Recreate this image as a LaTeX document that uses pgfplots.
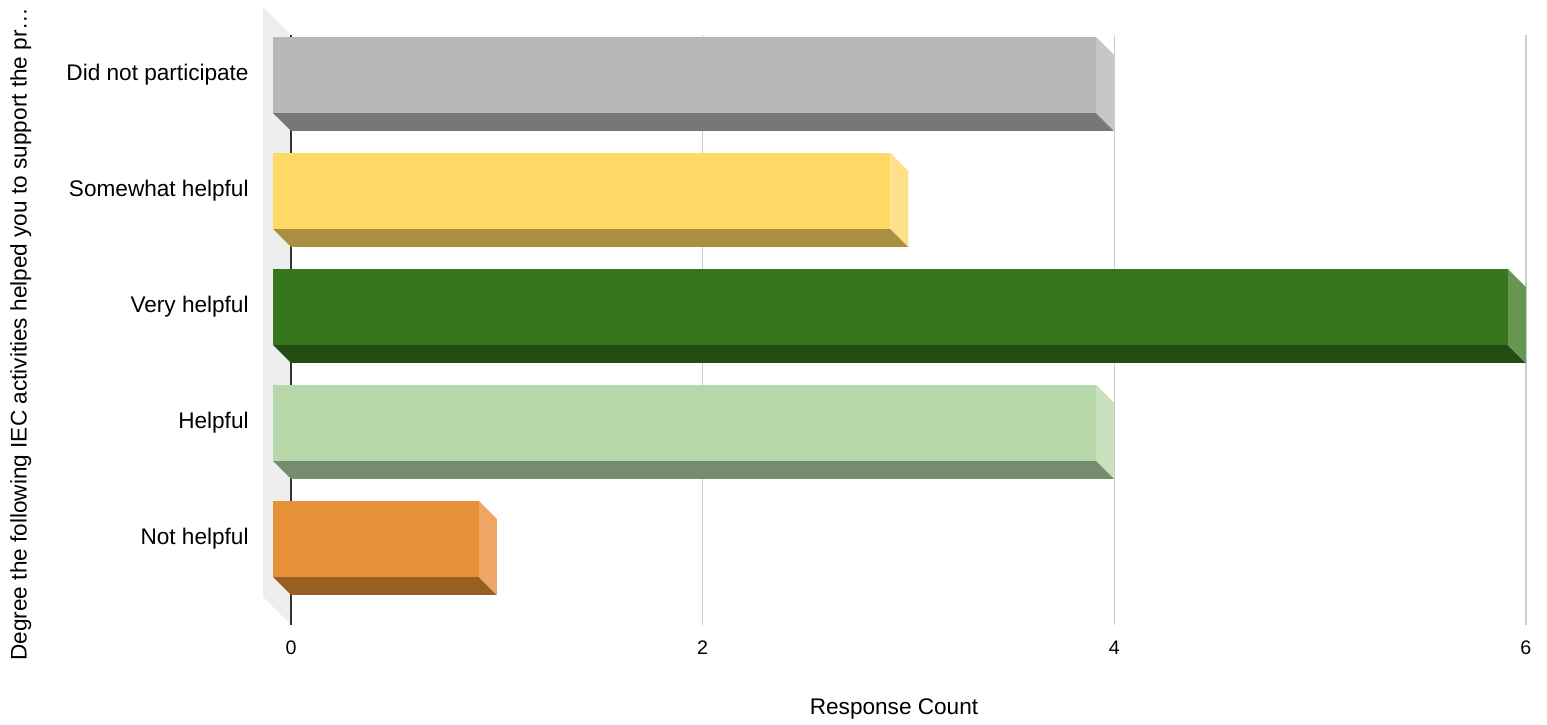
\documentclass[border=0pt]{standalone}
\usepackage{pgfplots}
\pgfplotsset{compat=1.18}
\usepackage{fontspec}
\setmainfont{Liberation Sans}

\definecolor{wallgray}{HTML}{EEEEEE}
\definecolor{gridgray}{HTML}{CCCCCC}
\definecolor{axisdark}{HTML}{333333}
\definecolor{dnpF}{HTML}{B7B7B7}
\definecolor{dnpB}{HTML}{777777}
\definecolor{dnpR}{HTML}{C7C7C7}
\definecolor{swF}{HTML}{FFD966}
\definecolor{swB}{HTML}{AA8E42}
\definecolor{swR}{HTML}{FFE08A}
\definecolor{vhF}{HTML}{38761D}
\definecolor{vhB}{HTML}{234B12}
\definecolor{vhR}{HTML}{679752}
\definecolor{hF}{HTML}{B6D7A8}
\definecolor{hB}{HTML}{778C6E}
\definecolor{hR}{HTML}{C9E2BE}
\definecolor{nhF}{HTML}{E69138}
\definecolor{nhB}{HTML}{985F23}
\definecolor{nhR}{HTML}{EDA663}

% #1 value, #2 top pixel row of front face, #3 front, #4 bottom, #5 right colour
\newcommand{\threedbar}[5]{%
  \pgfmathsetmacro{\vf}{#1-0.0875}%
  \pgfmathsetmacro{\ya}{#2+18}%
  \pgfmathsetmacro{\yb}{#2+76}%
  \pgfmathsetmacro{\yc}{#2+94}%
  \addplot[fill=#4, draw=none, mark=none] coordinates {(-0.0875,\yb) (\vf,\yb) (#1,\yc) (0,\yc)};
  \addplot[fill=#5, draw=none, mark=none] coordinates {(\vf,#2) (#1,\ya) (#1,\yc) (\vf,\yb)};
  \addplot[fill=#3, draw=none, mark=none] coordinates {(-0.0875,#2) (\vf,#2) (\vf,\yb) (-0.0875,\yb)};
}

\begin{document}
\begin{tikzpicture}
\begin{axis}[
  scale only axis, width=631.5pt, height=295pt,
  xmin=-0.136, xmax=6, ymin=35, ymax=625, y dir=reverse,
  clip=false,
  axis line style={draw=none},
  major tick length=0pt,
  xtick={0,2,4,6},
  xmajorgrids,
  grid style={color=gridgray, line width=0.7pt},
  ytick={75,191,307,423,539},
  yticklabels={Did not participate, Somewhat helpful, Very helpful, Helpful, Not helpful},
  yticklabel style={font=\fontsize{11.3}{13}\selectfont, anchor=east, inner sep=0pt, xshift=-7pt, text=black},
  xticklabel style={font=\fontsize{9.8}{12}\selectfont, anchor=north, inner sep=0pt, yshift=-8pt, text=black},
  /pgf/number format/assume math mode=true,
]
% wall
\addplot[fill=wallgray, draw=none, mark=none] coordinates {(-0.136,7) (0,35) (0,625) (-0.136,597)};
% axis line
\addplot[axisdark, line width=0.7pt, mark=none] coordinates {(0,35) (0,625)};

\threedbar{4}{37}{dnpF}{dnpB}{dnpR}
\threedbar{3}{153}{swF}{swB}{swR}
\threedbar{6}{269}{vhF}{vhB}{vhR}
\threedbar{4}{385}{hF}{hB}{hR}
\threedbar{1}{501}{nhF}{nhB}{nhR}

\node[anchor=base, font=\fontsize{11.3}{13}\selectfont] at (axis cs:2.93,715) {Response Count};
\node[anchor=base, rotate=90, font=\fontsize{11.3}{13}\selectfont] at (axis cs:-1.284,334) {Degree the following IEC activities helped you to support the pr…};

\coordinate (bbA) at (axis cs:-1.41399,0);
\coordinate (bbB) at (axis cs:6.1030,725);
\end{axis}
\pgfresetboundingbox
\path (bbA) rectangle (bbB);
\end{tikzpicture}
\end{document}
